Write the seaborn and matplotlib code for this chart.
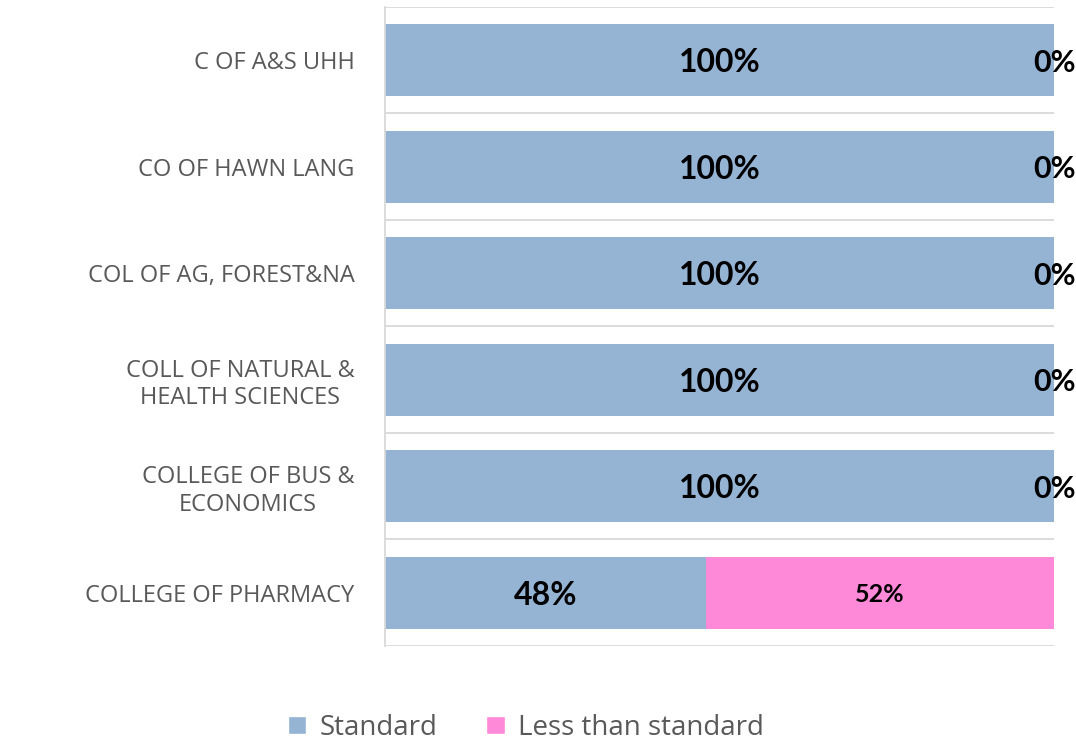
import matplotlib
matplotlib.use("Agg")
import matplotlib.pyplot as plt
import seaborn as sns
import pandas as pd
from matplotlib.patches import Patch

# данные
colleges = [
    "C OF A&S UHH",
    "CO OF HAWN LANG",
    "COL OF AG, FOREST&NA",
    "COLL OF NATURAL &\nHEALTH SCIENCES",
    "COLLEGE OF BUS &\nECONOMICS",
    "COLLEGE OF PHARMACY",
]
standard = [100, 100, 100, 100, 100, 48]
less_than = [0, 0, 0, 0, 0, 52]

blue = "#95B4D4"
pink = "#FF89D9"
grey_txt = "#595959"

df = pd.DataFrame({"college": colleges, "standard": standard, "less": less_than})
df["total"] = df["standard"] + df["less"]

sns.set_theme(style="white")
plt.rcParams["font.family"] = ["Open Sans", "DejaVu Sans"]

fig = plt.figure(figsize=(10.76, 7.41), dpi=100)
ax = fig.add_axes([0.3578, 0.1282, 0.6218, 0.8624])

# стек: сначала весь столбец розовым, поверх синий
sns.barplot(data=df, x="total", y="college", color=pink, width=0.68,
            orient="h", ax=ax, saturation=1, linewidth=0)
sns.barplot(data=df, x="standard", y="college", color=blue, width=0.68,
            orient="h", ax=ax, saturation=1, linewidth=0)

ax.set_xlim(0, 100)
ax.set_ylim(len(colleges) - 0.5, -0.5)
ax.set_xlabel("")
ax.set_ylabel("")
ax.set_xticks([])

# линии сетки между категориями
ax.set_yticks([i - 0.5 for i in range(len(colleges) + 1)], minor=True)
ax.grid(True, which="minor", axis="y", color="#D9D9D9", linewidth=1.3)
ax.tick_params(axis="y", which="both", length=0, pad=22)
for lbl in ax.get_yticklabels():
    lbl.set_fontsize(17)
    lbl.set_color(grey_txt)
    lbl.set_multialignment("center")

for side in ["top", "right", "bottom"]:
    ax.spines[side].set_visible(False)
ax.spines["left"].set_color("#D9D9D9")
ax.spines["left"].set_linewidth(1.3)

# подписи значений
for i, (s, l) in enumerate(zip(standard, less_than)):
    ax.text(s / 2, i, f"{s}%", ha="center", va="center_baseline", fontsize=23,
            fontweight="bold", color="black", family=["Lato", "DejaVu Sans"])
    fs = 18 if l > 0 else 22
    ax.text(s + l / 2, i, f"{l}%", ha="center", va="center_baseline", fontsize=fs,
            fontweight="bold", color="black", family=["Lato", "DejaVu Sans"],
            clip_on=False)

handles = [Patch(facecolor=blue, label="Standard"),
           Patch(facecolor=pink, label="Less than standard")]
fig.legend(handles=handles, loc="center", bbox_to_anchor=(0.489, 0.018),
           ncol=2, frameon=False, fontsize=20, labelcolor=grey_txt,
           handlelength=0.65, handleheight=0.65, handletextpad=0.5,
           columnspacing=1.75)

fig.savefig("out.png", dpi=100)
